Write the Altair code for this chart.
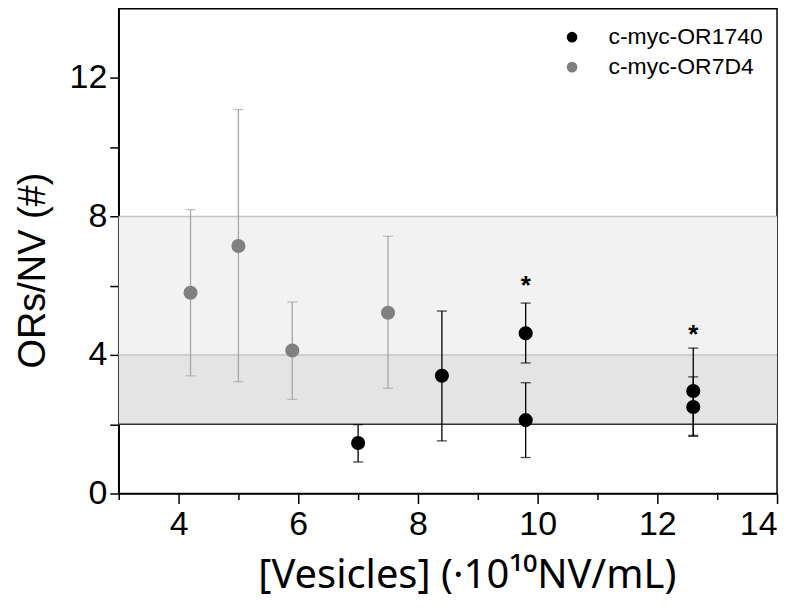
import altair as alt
import pandas as pd

# ---- data ----
series = ["c-myc-OR1740", "c-myc-OR7D4"]

or7d4_x = [4.2, 5.0, 5.9, 7.5]
or7d4_y = [5.80, 7.15, 4.13, 5.22]
or7d4_lo = [3.40, 3.23, 2.72, 3.04]
or7d4_hi = [8.20, 11.09, 5.53, 7.43]

or1740_x = [7.0, 8.4, 9.8, 9.8, 12.6, 12.6]
or1740_y = [1.46, 3.40, 4.63, 2.12, 2.96, 2.50]
or1740_lo = [0.91, 1.52, 3.77, 1.04, 1.68, 1.65]
or1740_hi = [1.99, 5.27, 5.50, 3.20, 4.20, 3.37]

star_x = [9.8, 12.6]
star_y = [6.13, 4.72]

band_lo = [2, 4]
band_hi = [4, 8]
band_color = ["#e4e4e4", "#f2f2f2"]
band_x0 = [3, 3]
band_x1 = [14, 14]

line_y = [2, 4, 8]
line_color = ["#333333", "#c4c4c4", "#c4c4c4"]

x_major = [4, 6, 8, 10, 12, 14]
x_minor = [3, 5, 7, 9, 11, 13]
y_ticks = [0, 2, 4, 6, 8, 10, 12]

W, H = 660, 486
FONT = "Liberation Sans"

gray = pd.DataFrame({"x": or7d4_x, "y": or7d4_y, "lo": or7d4_lo, "hi": or7d4_hi, "s": series[1]})
black = pd.DataFrame({"x": or1740_x, "y": or1740_y, "lo": or1740_lo, "hi": or1740_hi, "s": series[0]})
pts = pd.concat([black, gray], ignore_index=True)
bands = pd.DataFrame({"lo": band_lo, "hi": band_hi, "c": band_color, "x0": band_x0, "x1": band_x1})
lines = pd.DataFrame({"y": line_y, "c": line_color, "x0": [3] * 3, "x1": [14] * 3})
stars = pd.DataFrame({"x": star_x, "y": star_y, "t": ["*", "*"]})

xs = alt.Scale(domain=[3, 14], nice=False, zero=False)
ys = alt.Scale(domain=[0, 14], nice=False, zero=False)

x_axis_main = alt.Axis(
    values=x_major, title="[Vesicles] (·10¹⁰NV/mL)", tickSize=10, labelPadding=4,
    labelFontSize=34, titleFontSize=40, titlePadding=14, titleX=349, grid=False,
    domainColor="black", domainWidth=1.5, tickColor="black", tickWidth=1.5,
    labelColor="black", titleColor="black", titleFontWeight="normal", labelFont=FONT,
    titleFont="Noto Sans", orient="bottom",
)
x_axis_minor = alt.Axis(
    values=x_minor, title=None, tickSize=6, labels=False, domain=False, grid=False,
    tickColor="black", tickWidth=1.5, orient="bottom",
)
y_axis = alt.Axis(
    values=y_ticks, title="ORs/NV (#)", tickSize=9, labelPadding=3,
    labelExpr="datum.value % 4 == 0 ? datum.label : ''",
    labelFontSize=34, titleFontSize=38, titlePadding=17, titleY=262, grid=False,
    domainColor="black", domainWidth=1.5, tickColor="black", tickWidth=1.5,
    labelColor="black", titleColor="black", titleFontWeight="normal", labelFont=FONT, titleFont=FONT,
)


def Y(field):
    return alt.Y(field, scale=ys, axis=y_axis)


band_layer = alt.Chart(bands).mark_rect().encode(
    x=alt.X("x0:Q", scale=xs, axis=x_axis_minor),
    x2="x1:Q",
    y=Y("lo:Q"),
    y2="hi:Q",
    color=alt.Color("c:N", scale=None),
)

line_layer = alt.Chart(lines).mark_rule(strokeWidth=1.5).encode(
    x=alt.X("x0:Q", scale=xs, axis=None),
    x2="x1:Q",
    y=Y("y:Q"),
    color=alt.Color("c:N", scale=None),
)


def err_layers(df, col):
    r = alt.Chart(df).mark_rule(color=col, strokeWidth=1.3).encode(
        x=alt.X("x:Q", scale=xs, axis=None),
        y=Y("lo:Q"),
        y2="hi:Q",
    )
    t1 = alt.Chart(df).mark_tick(color=col, orient="horizontal", size=10, thickness=1.3).encode(
        x=alt.X("x:Q", scale=xs, axis=None),
        y=Y("lo:Q"),
    )
    t2 = alt.Chart(df).mark_tick(color=col, orient="horizontal", size=10, thickness=1.3).encode(
        x=alt.X("x:Q", scale=xs, axis=None),
        y=Y("hi:Q"),
    )
    return [r, t1, t2]


point_layer = alt.Chart(pts).mark_circle(size=200, opacity=1).encode(
    x=alt.X("x:Q", scale=xs, axis=x_axis_main),
    y=Y("y:Q"),
    color=alt.Color(
        "s:N",
        scale=alt.Scale(domain=series, range=["#000000", "#808080"]),
        legend=alt.Legend(
            title=None, orient="none", legendX=443, legendY=17, symbolSize=115,
            symbolType="circle", labelFontSize=23, labelFont=FONT, labelColor="black",
            labelOffset=25, rowPadding=6, padding=0, symbolStrokeWidth=0,
        ),
    ),
)

star_layer = alt.Chart(stars).mark_text(
    fontSize=26, fontWeight="bold", font=FONT, color="black", baseline="middle", dy=5
).encode(
    x=alt.X("x:Q", scale=xs, axis=None),
    y=Y("y:Q"),
    text="t:N",
)

chart = alt.layer(
    band_layer, line_layer,
    *err_layers(gray, "#a6a6a6"),
    *err_layers(black, "#000000"),
    point_layer, star_layer,
).resolve_axis(x="independent").properties(
    width=W, height=H,
    autosize=alt.AutoSizeParams(type="none"),
    padding={"left": 111, "top": 0, "right": 15, "bottom": 112},
).configure_view(stroke="black", strokeWidth=1.5)

chart.save("out.html", embed_options={"renderer": "svg", "actions": False})
